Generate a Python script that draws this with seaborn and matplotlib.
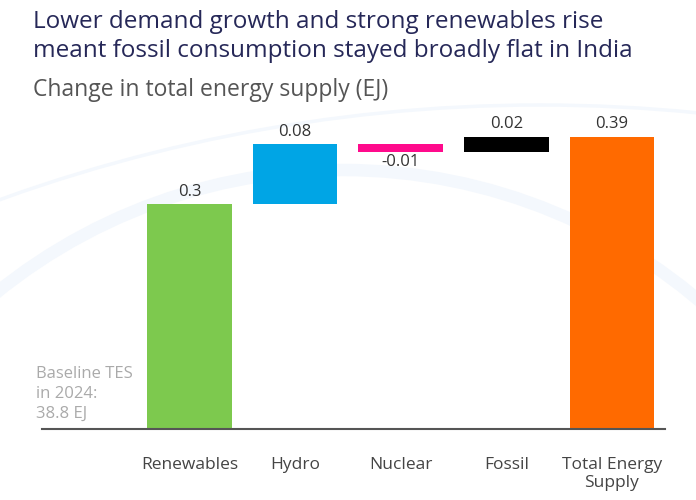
import matplotlib
matplotlib.use("Agg")
import matplotlib.pyplot as plt
import matplotlib.patches as mpatches
import matplotlib.transforms as mtransforms
import numpy as np
import pandas as pd
import seaborn as sns

# waterfall data (EJ)
categories = ["Renewables", "Hydro", "Nuclear", "Fossil", "Total Energy\nSupply"]
changes = [0.3, 0.08, -0.01, 0.02, 0.39]
value_labels = ["0.3", "0.08", "-0.01", "0.02", "0.39"]
bar_colors = ["#7dc94e", "#00a5e5", "#ff0a8c", "#000000", "#ff6a00"]
baseline_text = "Baseline TES\nin 2024:\n38.8 EJ"

title = "Lower demand growth and strong renewables rise\nmeant fossil consumption stayed broadly flat in India"
subtitle = "Change in total energy supply (EJ)"

# bottoms: running total for the steps, zero for the total bar
steps = changes[:-1]
bottoms = list(np.concatenate([[0], np.cumsum(steps)[:-1]])) + [0]

df = pd.DataFrame({"cat": categories, "change": changes, "bottom": bottoms})

sns.set_theme(style="white")
plt.rcParams["font.family"] = ["Open Sans", "DejaVu Sans"]

fig = plt.figure(figsize=(6.96, 5), dpi=100)
fig.patch.set_facecolor("white")

# faint decorative arcs in the background (pixel coords)
px = mtransforms.IdentityTransform()
fig.add_artist(mpatches.Circle((343, 500 - 721), 551, fill=False, lw=9,
                               ec="#f4f8fd", transform=px, zorder=0))
fig.add_artist(mpatches.Circle((540, 500 - 1694), 1589, fill=False, lw=2.5,
                               ec="#f4f8fd", transform=px, zorder=0))

ax = fig.add_axes([0.060, 0.142, 0.895, 0.630])
ax.patch.set_alpha(0)

sns.barplot(data=df, x="cat", y="change", hue="cat", palette=bar_colors,
            legend=False, width=0.8, ax=ax, saturation=1)

# move each bar to its waterfall position
for patch, b, v in zip(ax.patches, df["bottom"], df["change"]):
    patch.set_y(b)
    patch.set_height(v)
    patch.set_edgecolor("none")

for i, (b, v, lab) in enumerate(zip(df["bottom"], df["change"], value_labels)):
    if v >= 0:
        ax.annotate(lab, (i, b + v), xytext=(0, 3), textcoords="offset points",
                    ha="center", va="bottom", fontsize=12, color="#333333")
    else:
        ax.annotate(lab, (i, b + v), xytext=(0, -2), textcoords="offset points",
                    ha="center", va="top", fontsize=12, color="#333333")

ax.set_xlim(-1.4, 4.5)
ax.set_ylim(0, 0.42)
ax.set_xlabel("")
ax.set_ylabel("")
ax.set_yticks([])
sns.despine(ax=ax, left=True)
ax.spines["bottom"].set_color("#555555")
ax.spines["bottom"].set_linewidth(1.5)
ax.tick_params(axis="x", length=0, pad=20, labelsize=12.5, labelcolor="#444444")
for t in ax.get_xticklabels():
    t.set_va("top")
    t.set_linespacing(1.15)

ax.text(-1.45, 0.01, baseline_text, ha="left", va="bottom", fontsize=12,
        color="#aaaaaa", linespacing=1.3)

fig.text(33 / 696, 1 - 10 / 500, title, ha="left", va="top", fontsize=17.5,
         color="#262858", linespacing=1.3, fontweight="medium")
fig.text(33 / 696, 1 - 78 / 500, subtitle, ha="left", va="top", fontsize=16.5,
         color="#555555")

fig.savefig("out.png", dpi=100)
